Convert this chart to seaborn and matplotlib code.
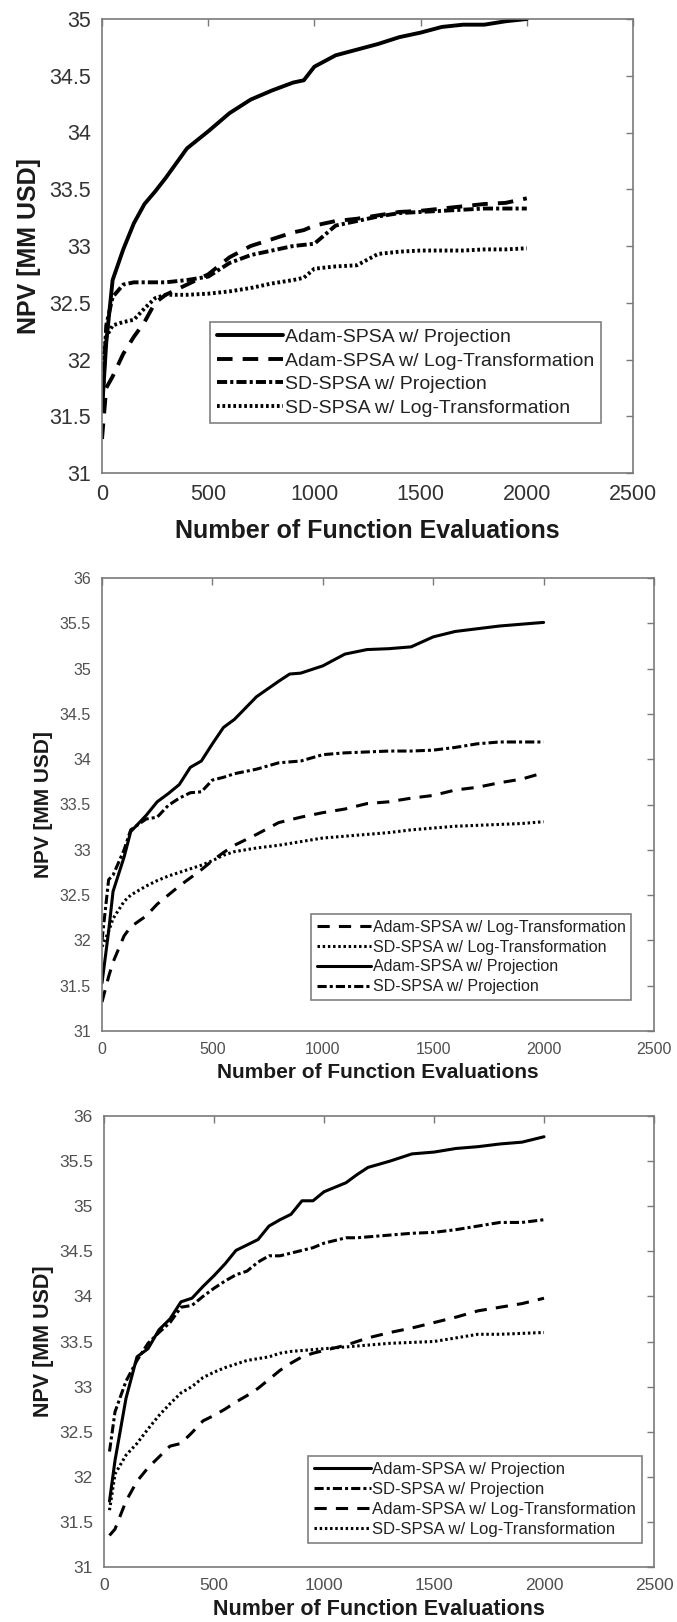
import numpy as np
import pandas as pd
import matplotlib
matplotlib.use("Agg")
import matplotlib.pyplot as plt
import seaborn as sns

# ---------------- data ----------------
LBL_AP = "Adam-SPSA w/ Projection"
LBL_AL = "Adam-SPSA w/ Log-Transformation"
LBL_SP = "SD-SPSA w/ Projection"
LBL_SL = "SD-SPSA w/ Log-Transformation"

p1_x = [0, 20, 50, 100, 150, 200, 250, 300, 400, 500, 600, 700, 800, 900, 950,
        1000, 1100, 1200, 1300, 1400, 1500, 1600, 1700, 1800, 1900, 2000]
p1_adam_proj = [31.55, 32.15, 32.7, 32.97, 33.2, 33.37, 33.48, 33.6, 33.86, 34.01, 34.17, 34.29, 34.37,
                34.44, 34.46, 34.58, 34.68, 34.73, 34.78, 34.84, 34.88, 34.93, 34.95, 34.95, 34.98, 35.0]
p1_adam_log = [31.3, 31.75, 31.85, 32.05, 32.2, 32.33, 32.5, 32.57, 32.66, 32.75, 32.9, 33.0, 33.06,
               33.12, 33.14, 33.18, 33.22, 33.24, 33.27, 33.3, 33.31, 33.33, 33.35, 33.37, 33.38, 33.42]
p1_sd_proj = [31.55, 32.3, 32.55, 32.66, 32.68, 32.68, 32.68, 32.68, 32.7, 32.73, 32.85, 32.92, 32.96,
              33.0, 33.01, 33.02, 33.18, 33.22, 33.26, 33.29, 33.3, 33.31, 33.32, 33.33, 33.33, 33.33]
p1_sd_log = [31.95, 32.2, 32.3, 32.33, 32.35, 32.45, 32.54, 32.57, 32.57, 32.58, 32.6, 32.63, 32.67,
             32.7, 32.72, 32.8, 32.82, 32.83, 32.93, 32.95, 32.96, 32.96, 32.96, 32.97, 32.97, 32.98]

p2_x = [0, 30, 50, 100, 130, 200, 250, 300, 350, 400, 450, 500, 550, 600, 700, 800, 850, 900,
        1000, 1100, 1200, 1300, 1400, 1500, 1600, 1700, 1800, 1900, 2000]
p2_adam_proj = [31.53, 32.1, 32.54, 32.92, 33.2, 33.38, 33.53, 33.62, 33.72, 33.91, 33.98, 34.17, 34.35,
                34.44, 34.69, 34.86, 34.94, 34.95, 35.03, 35.16, 35.21, 35.22, 35.24, 35.35, 35.41,
                35.44, 35.47, 35.49, 35.51]
p2_sd_proj = [32.0, 32.67, 32.72, 33.0, 33.22, 33.34, 33.36, 33.49, 33.57, 33.63, 33.64, 33.77, 33.8,
              33.84, 33.89, 33.96, 33.97, 33.98, 34.05, 34.07, 34.08, 34.09, 34.09, 34.1, 34.13,
              34.17, 34.19, 34.19, 34.19]
p2_adam_log = [31.32, 31.6, 31.76, 32.05, 32.15, 32.27, 32.4, 32.5, 32.6, 32.69, 32.78, 32.88, 32.97,
               33.05, 33.17, 33.3, 33.33, 33.36, 33.41, 33.45, 33.51, 33.53, 33.57, 33.6, 33.66,
               33.69, 33.74, 33.78, 33.85]
p2_sd_log = [31.93, 32.1, 32.24, 32.43, 32.5, 32.6, 32.66, 32.71, 32.75, 32.79, 32.83, 32.88, 32.94,
             32.98, 33.02, 33.05, 33.07, 33.09, 33.13, 33.15, 33.17, 33.19, 33.22, 33.24, 33.26,
             33.27, 33.28, 33.29, 33.31]

p3_x = [25, 50, 100, 150, 200, 250, 300, 350, 400, 450, 500, 550, 600, 650, 700, 750, 800, 850,
        900, 950, 1000, 1100, 1150, 1200, 1300, 1400, 1500, 1600, 1700, 1800, 1900, 2000]
p3_adam_proj = [31.73, 32.18, 32.87, 33.33, 33.42, 33.63, 33.75, 33.94, 33.98, 34.11, 34.23, 34.36,
                34.51, 34.57, 34.63, 34.78, 34.85, 34.91, 35.06, 35.06, 35.16, 35.26, 35.35, 35.43,
                35.5, 35.58, 35.6, 35.64, 35.66, 35.69, 35.71, 35.77]
p3_sd_proj = [32.28, 32.72, 33.06, 33.29, 33.48, 33.6, 33.71, 33.88, 33.9, 34.0, 34.09, 34.17, 34.24,
              34.28, 34.38, 34.45, 34.45, 34.48, 34.51, 34.54, 34.59, 34.65, 34.65, 34.66, 34.68,
              34.7, 34.71, 34.74, 34.78, 34.82, 34.82, 34.85]
p3_adam_log = [31.35, 31.42, 31.73, 31.95, 32.1, 32.22, 32.34, 32.37, 32.49, 32.62, 32.68, 32.75,
               32.83, 32.9, 32.98, 33.08, 33.18, 33.26, 33.33, 33.37, 33.4, 33.46, 33.5, 33.54, 33.6,
               33.65, 33.71, 33.77, 33.84, 33.88, 33.92, 33.98]
p3_sd_log = [31.63, 32.03, 32.24, 32.37, 32.53, 32.68, 32.81, 32.93, 33.0, 33.1, 33.16, 33.21, 33.25,
             33.29, 33.31, 33.33, 33.37, 33.39, 33.4, 33.41, 33.42, 33.44, 33.45, 33.46, 33.48,
             33.49, 33.5, 33.54, 33.58, 33.58, 33.59, 33.6]

x_ticks = [0, 500, 1000, 1500, 2000, 2500]
p1_yticks = [31, 31.5, 32, 32.5, 33, 33.5, 34, 34.5, 35]
p23_yticks = [31, 31.5, 32, 32.5, 33, 33.5, 34, 34.5, 35, 35.5, 36]
x_label = "Number of Function Evaluations"
y_label_1 = "NPV [MM USD]"
y_label_2 = "NPV [MM USD]"

# ---------------- style ----------------
sns.set_style("white")
plt.rcParams["font.family"] = ["Liberation Sans", "DejaVu Sans"]

W, H = 677, 1622
fig = plt.figure(figsize=(W / 100, H / 100), dpi=100)

def tick_fmt(v):
    return ("%g" % v)

def draw_panel(rect, x, series, ylim, yticks, lw, styles, fs_tick, fs_label, fs_leg,
               leg_anchor, handlelen, ylabel, tick_color, ylab_x, xlab_pad):
    ax = fig.add_axes(rect)
    for (lab, y) in series:
        df = pd.DataFrame({"x": x, "y": y})
        sns.lineplot(data=df, x="x", y="y", ax=ax, color="black", lw=lw,
                     linestyle=styles[lab], label=lab, sort=False,
                     solid_joinstyle="round", dash_capstyle="butt")
    ax.set_xlim(0, 2500)
    ax.set_ylim(*ylim)
    ax.set_xticks(x_ticks)
    ax.set_xticklabels([tick_fmt(v) for v in x_ticks])
    ax.set_yticks(yticks)
    ax.set_yticklabels([tick_fmt(v) for v in yticks])
    for s in ax.spines.values():
        s.set_color("#7a7a7a")
        s.set_linewidth(1.2)
        s.set_visible(True)
    ax.tick_params(direction="in", length=5, width=1.0, color="#7a7a7a",
                   top=True, right=True, labelsize=fs_tick, labelcolor=tick_color,
                   pad=8)
    ax.set_xlabel(x_label, fontsize=fs_label, fontweight="bold", color="#1a1a1a",
                  labelpad=xlab_pad)
    ax.set_ylabel(ylabel, fontsize=fs_label, fontweight="bold", color="#1a1a1a")
    ax.yaxis.set_label_coords(ylab_x, 0.5)
    leg = ax.legend(loc="upper left", bbox_to_anchor=leg_anchor, fontsize=fs_leg,
                    frameon=True, fancybox=False, framealpha=1, edgecolor="#808080",
                    handlelength=handlelen, handletextpad=0.1, labelspacing=0.3,
                    borderpad=0.35, borderaxespad=0)
    leg.get_frame().set_linewidth(1.2)
    for t in leg.get_texts():
        t.set_color("#222222")
    return ax

# panel 1
st1 = {LBL_AP: "-", LBL_AL: (0, (4, 2.6)), LBL_SP: (0, (2.6, 0.8, 0.8, 0.8)), LBL_SL: (0, (0.7, 0.7))}
draw_panel([102 / W, 1 - 473 / H, 531 / W, 454 / H], p1_x,
           [(LBL_AP, p1_adam_proj), (LBL_AL, p1_adam_log), (LBL_SP, p1_sd_proj), (LBL_SL, p1_sd_log)],
           (31, 35), p1_yticks, 2.8, st1, 15.5, 18, 14, (0.203, 0.333), 3.4, y_label_1,
           "#333333", -0.115, 10)

# panel 2
st2 = {LBL_AP: "-", LBL_AL: (0, (4, 3)), LBL_SP: (0, (3, 1, 1, 1)), LBL_SL: (0, (0.8, 0.9))}
draw_panel([102 / W, 1 - 1031 / H, 552 / W, 453 / H], p2_x,
           [(LBL_AL, p2_adam_log), (LBL_SL, p2_sd_log), (LBL_AP, p2_adam_proj), (LBL_SP, p2_sd_proj)],
           (31, 36), p23_yticks, 2.2, st2, 11.5, 15, 11.5, (0.379, 0.258), 3.4, y_label_2,
           "#505050", -0.088, 4)

# panel 3
draw_panel([104 / W, 1 - 1567 / H, 550 / W, 451 / H], p3_x,
           [(LBL_AP, p3_adam_proj), (LBL_SP, p3_sd_proj), (LBL_AL, p3_adam_log), (LBL_SL, p3_sd_log)],
           (31, 36), p23_yticks, 2.2, st2, 12.5, 15.5, 12, (0.371, 0.246), 3.4, y_label_2,
           "#505050", -0.091, 4)

fig.savefig("out.png", dpi=100)
